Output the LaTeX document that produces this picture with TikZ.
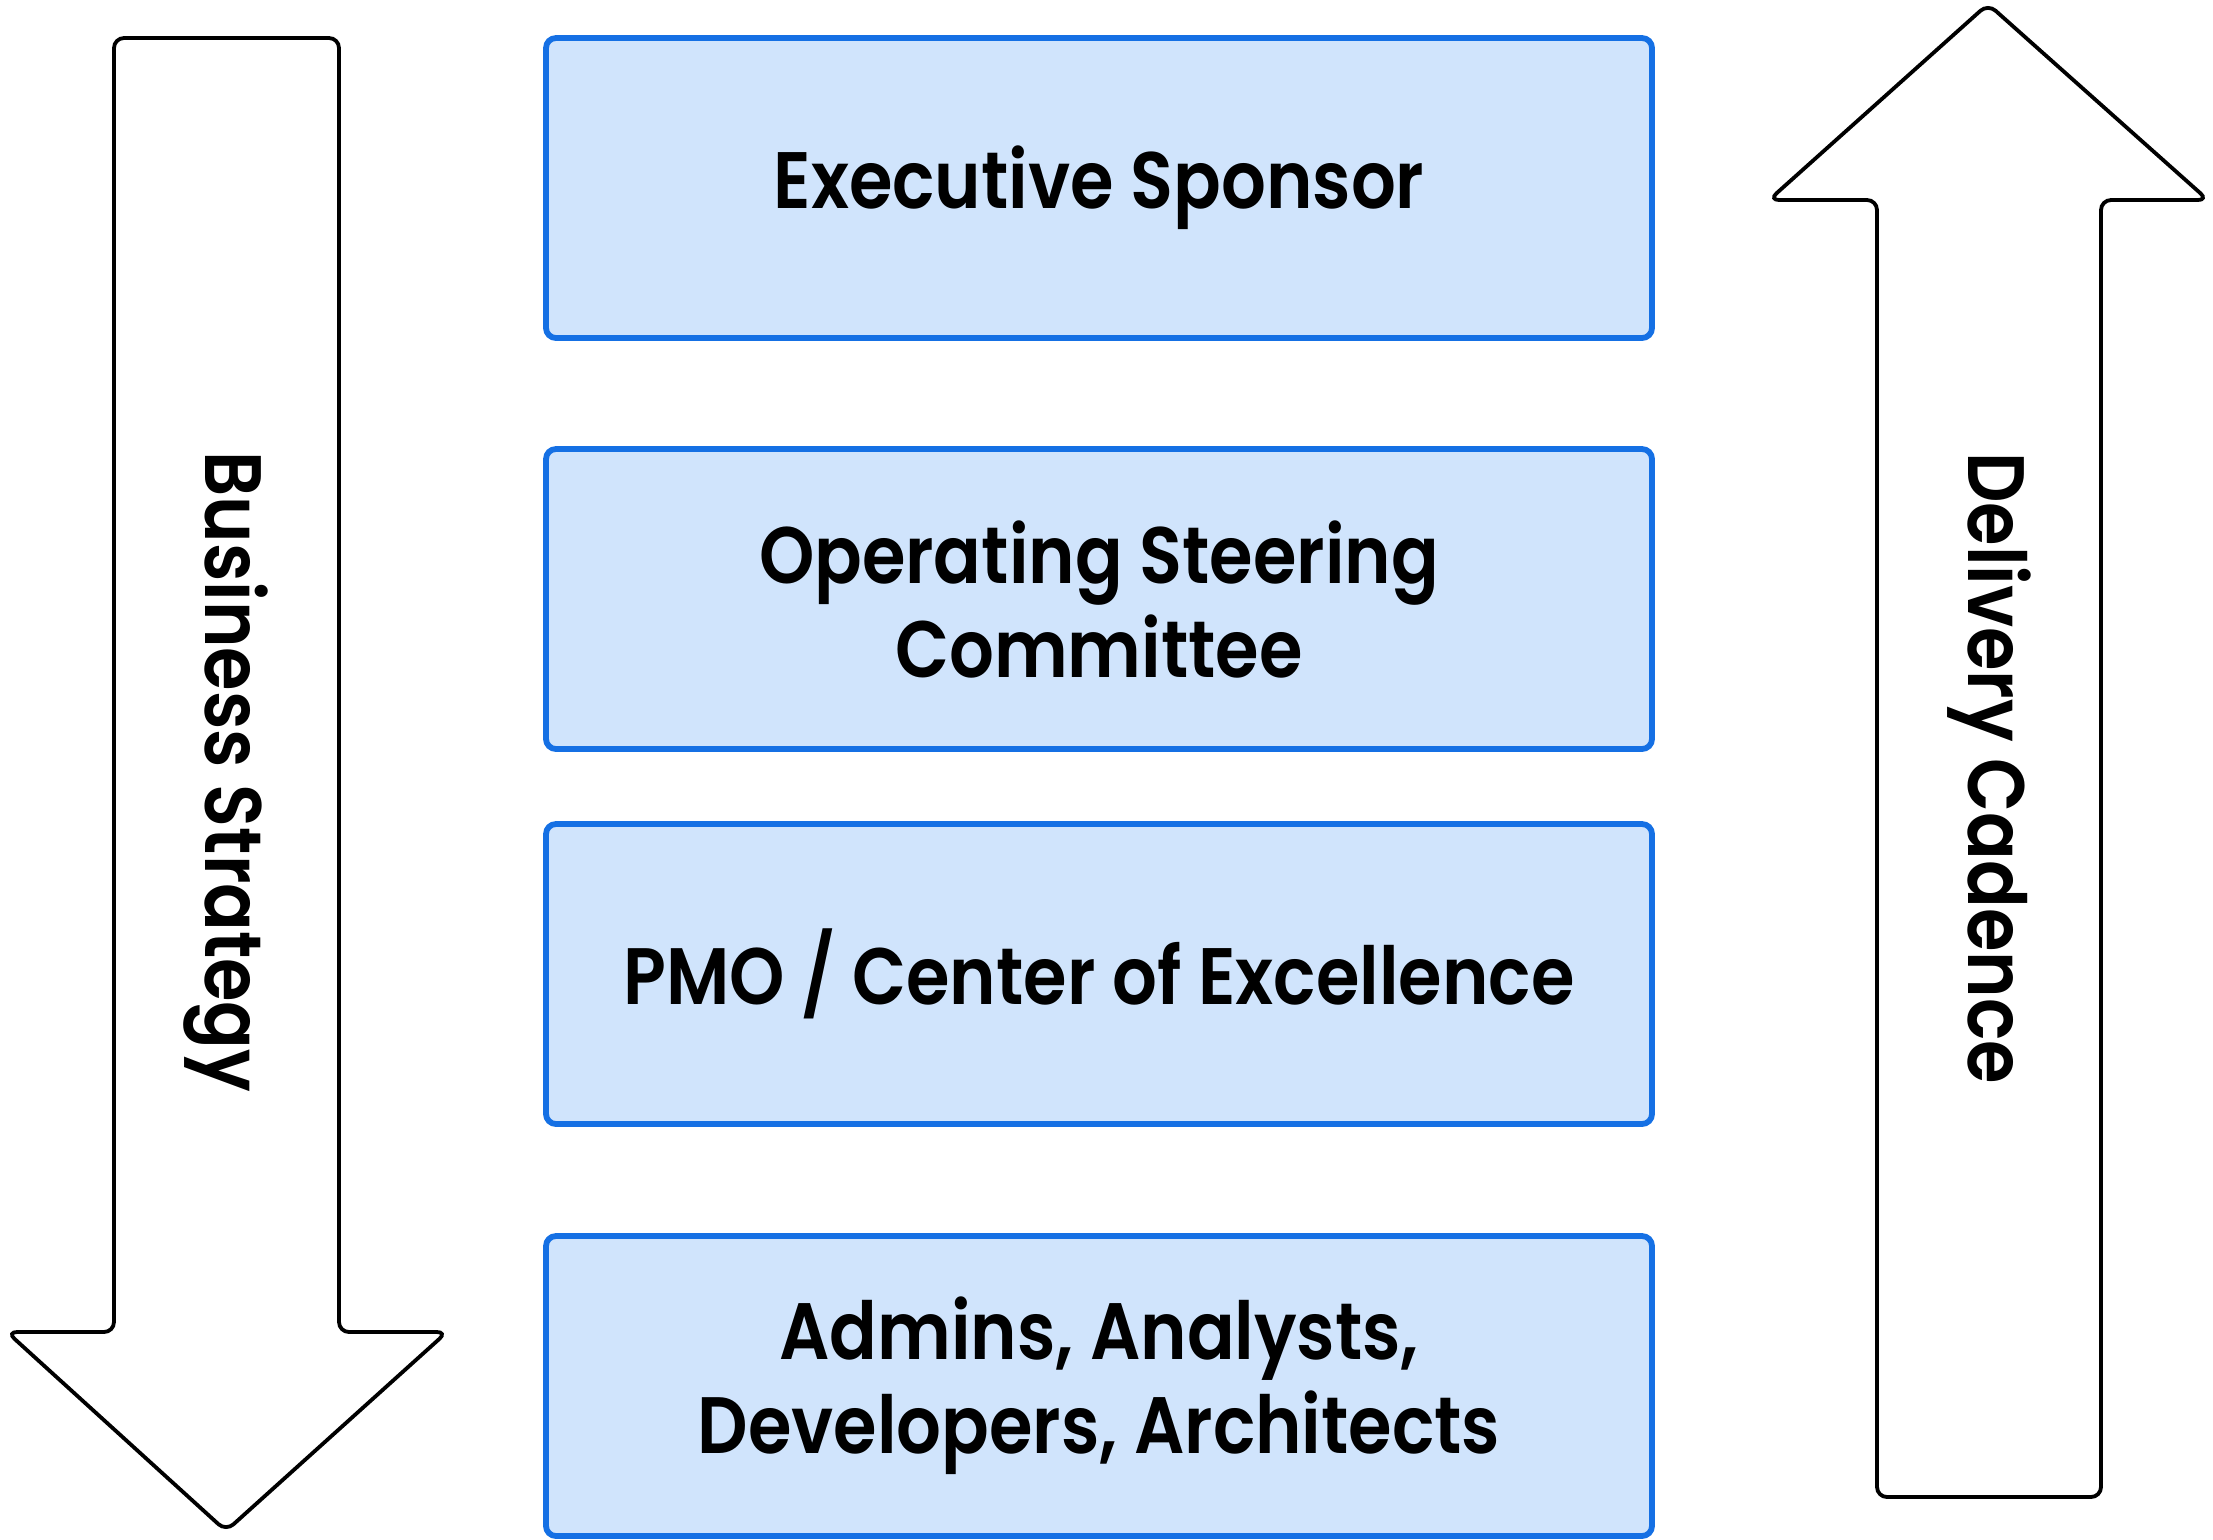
\documentclass[tikz,border=0pt]{standalone}
\usepackage{fontspec}
\setmainfont{Poppins}[BoldFont={Poppins SemiBold}, FakeStretch=0.88]
\usetikzlibrary{positioning}
\definecolor{boxblue}{HTML}{1570E4}
\definecolor{boxfill}{HTML}{D0E4FC}
\tikzstyle{level} = [rectangle, rounded corners=5pt, minimum width=553pt, minimum height=150pt, text centered, align=center, draw=boxblue, line width=2.9pt, fill=boxfill, font=\fontsize{40}{47}\selectfont\bfseries]
\tikzstyle{bigarrow} = [draw=black, line width=1.9pt, rounded corners=5pt, fill=white]
\tikzstyle{arrowlabel} = [rotate=-90, font=\fontsize{40}{47}\selectfont\bfseries]

\begin{document}
\begin{tikzpicture}[x=0.5pt, y=-0.5pt]
\useasboundingbox (0,0) rectangle (2213,1539);
% left arrow, pointing down
\draw [bigarrow] (114,38) -- (339,38) -- (339,1332) -- (447,1332) -- (226,1531) -- (7,1332) -- (114,1332) -- cycle;
% right arrow, pointing up
\draw [bigarrow] (1877,1497) -- (1877,200) -- (1769,200) -- (1988,4) -- (2208,200) -- (2101,200) -- (2101,1497) -- cycle;
\node (strategy) [arrowlabel] at (226,772) {Business Strategy};
\node (cadence) [arrowlabel] at (1989,768) {Delivery Cadence};
% levels
\node (exec) [level] at (1099,188) {Executive Sponsor};
\node (steer) [level] at (1099,599) {Operating Steering\\Committee};
\node (pmo) [level] at (1099,974) {PMO / Center of Excellence};
\node (team) [level] at (1099,1386) {Admins, Analysts,\\Developers, Architects};
\end{tikzpicture}
\end{document}
